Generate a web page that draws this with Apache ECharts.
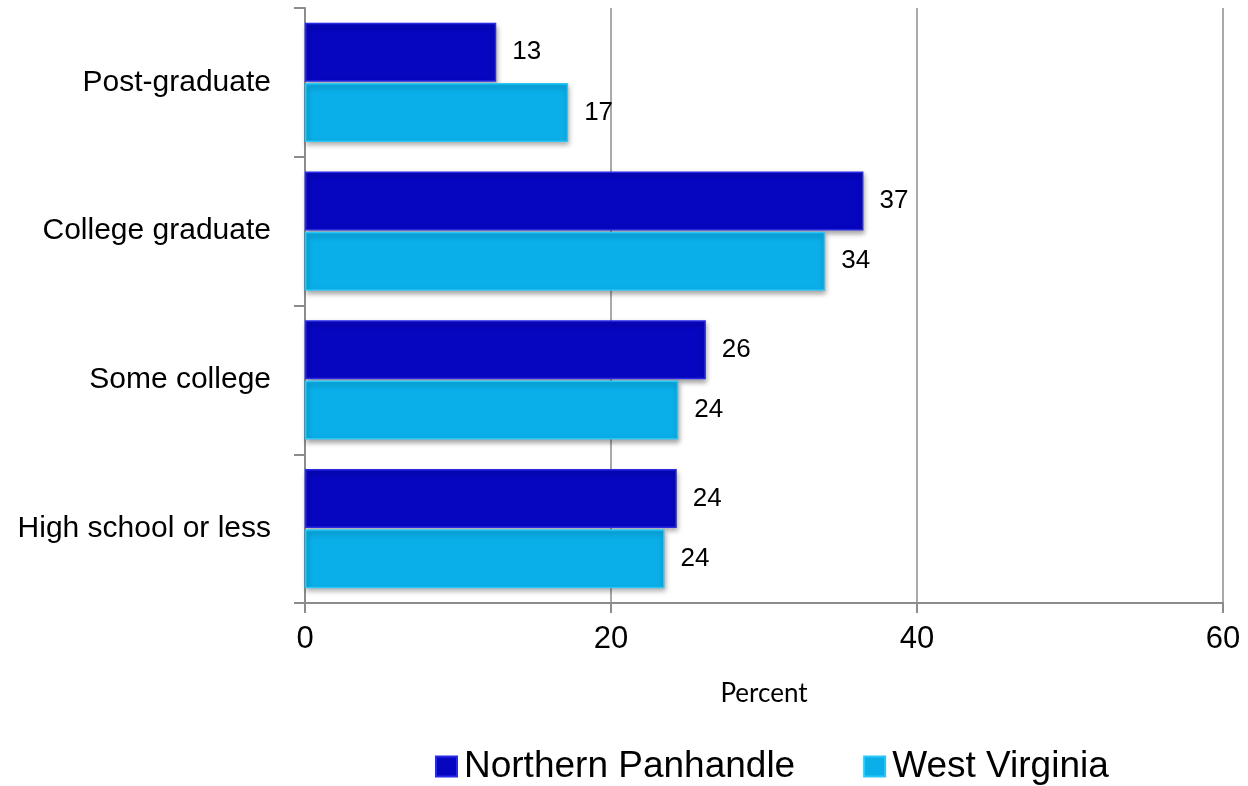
<!DOCTYPE html>
<html>
<head>
<meta charset="utf-8">
<script src="https://cdn.jsdelivr.net/npm/echarts@6/dist/echarts.min.js"></script>
<style>
html,body{margin:0;padding:0;background:#fff;}
#chart{width:1248px;height:786px;}
</style>
</head>
<body>
<div id="chart"></div>
<script>
const categories = ['High school or less', 'Some college', 'College graduate', 'Post-graduate'];
const northernPanhandle = [24.3, 26.2, 36.5, 12.5];
const westVirginia = [23.5, 24.4, 34.0, 17.2];
const xTicks = [0, 20, 40, 60];
const seriesNames = ['Northern Panhandle', 'West Virginia'];

const chart = echarts.init(document.getElementById('chart'), null, {renderer: 'canvas'});
const axisGray = '#8c8c8c';
const font = 'Liberation Sans';

function barSeries(name, data, color, border) {
  return {
    name: name,
    type: 'bar',
    data: data,
    barWidth: 59,
    barGap: '2%',
    itemStyle: {
      color: color,
      borderColor: border,
      borderWidth: 1.5,
      shadowColor: 'rgba(0,0,0,0.35)',
      shadowBlur: 5,
      shadowOffsetX: 1,
      shadowOffsetY: 3
    },
    label: {
      show: true,
      position: 'right',
      distance: 16,
      color: '#000',
      fontFamily: font,
      fontSize: 26,
      formatter: p => Math.round(p.value)
    }
  };
}

chart.setOption({
  animation: false,
  backgroundColor: '#fff',
  textStyle: {fontFamily: font},
  grid: {left: 305, right: 25, top: 8, bottom: 183, containLabel: false},
  legend: {
    data: seriesNames,
    left: 430,
    top: 743,
    itemWidth: 21,
    itemHeight: 20,
    itemGap: 68,
    icon: 'rect',
    textStyle: {fontFamily: font, fontSize: 37, color: '#000', padding: [0,0,0,2]}
  },
  xAxis: {
    type: 'value',
    min: xTicks[0],
    max: xTicks[xTicks.length - 1],
    interval: 20,
    name: 'Percent',
    nameLocation: 'middle',
    nameGap: 78,
    nameTextStyle: {fontFamily: 'Lato', fontSize: 26, color: '#000'},
    axisLine: {show: true, lineStyle: {color: axisGray, width: 2}},
    axisTick: {show: true, length: 10, lineStyle: {color: axisGray, width: 2}},
    splitLine: {show: true, lineStyle: {color: axisGray, width: 1.5}},
    axisLabel: {fontFamily: font, fontSize: 31, color: '#000', margin: 21}
  },
  yAxis: {
    type: 'category',
    data: categories,
    axisLine: {show: true, lineStyle: {color: axisGray, width: 2}},
    axisTick: {show: true, length: 11, lineStyle: {color: axisGray, width: 2}},
    axisLabel: {fontFamily: font, fontSize: 30, color: '#000', margin: 34}
  },
  series: [
    barSeries(seriesNames[0], northernPanhandle, '#0606C0', '#2a2ae6'),
    barSeries(seriesNames[1], westVirginia, '#0AAEE8', '#2cc6f6')
  ]
});
</script>
</body>
</html>
